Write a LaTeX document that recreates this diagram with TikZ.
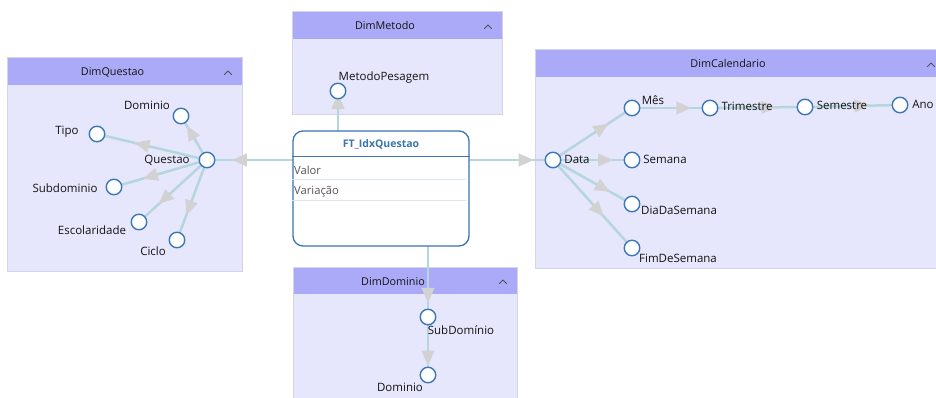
\documentclass[tikz,border=0pt]{standalone}
\usepackage{fontspec}
\setmainfont{Open Sans}
\usetikzlibrary{arrows.meta,decorations.markings,calc}

\definecolor{panelbody}{RGB}{230,230,252}
\definecolor{panelhead}{RGB}{170,170,248}
\definecolor{panelrule}{RGB}{212,212,226}
\definecolor{linkcol}{RGB}{182,214,222}
\definecolor{headcol}{RGB}{210,210,210}
\definecolor{ringcol}{RGB}{58,118,184}
\definecolor{factblue}{RGB}{58,116,178}
\definecolor{rowrule}{RGB}{222,230,240}
\definecolor{inkcol}{RGB}{20,20,20}
\definecolor{rowink}{RGB}{85,85,85}
\definecolor{caretcol}{RGB}{80,80,90}

% dimension panel: x1, y1, x2, y2, title, name
\newcommand{\dimpanel}[6]{%
  \fill[panelbody] (#1,#2) rectangle (#3,#4);
  \fill[panelhead] (#1,#2) rectangle (#3,{#2+27});
  \draw[panelrule, line width=1pt] (#1,#2) rectangle (#3,#4);
  \node[ptitle] (#6) at ({(#1+#3)/2-12},{#2+15}) {#5};
  \draw[caretcol, line width=0.9pt, line cap=round, line join=round]
    ({#3-17.5},{#2+16.5}) -- ({#3-14},{#2+13}) -- ({#3-10.5},{#2+16.5});
}

\begin{document}
\begin{tikzpicture}[x=1pt,y=-1pt,
  attr/.style={circle, draw=ringcol, fill=white, line width=1.4pt,
    minimum size=15.5pt, inner sep=0pt},
  lbl/.style={font=\fontsize{11.5}{13}\selectfont, text=inkcol, inner sep=0pt,
    text height=8.5pt, text depth=2.5pt},
  ptitle/.style={font=\fontsize{10.8}{12}\selectfont, text=inkcol, inner sep=0pt,
    text height=8pt, text depth=2pt},
  rowtext/.style={font=\fontsize{11.2}{13}\selectfont, text=rowink, inner sep=0pt,
    anchor=west, text height=8.5pt, text depth=2.5pt},
  link/.style={draw=linkcol, line width=2.5pt, postaction={decorate},
    decoration={markings, mark=at position #1 with
      {\arrow{Triangle[length=15pt,width=12.5pt,color=headcol]}}}},
]
\useasboundingbox (0,0) rectangle (936,398);
\clip (0,0) rectangle (936,398);
\fill[white] (0,0) rectangle (936,398);

% panels
\dimpanel{7}{58}{242}{271}{DimQuestao}{p-questao}
\dimpanel{292}{12}{502}{115}{DimMetodo}{p-metodo}
\dimpanel{535}{50}{945}{268}{DimCalendario}{p-calendario}
\dimpanel{293}{267}{517}{405}{DimDominio}{p-dominio}

% fact table frame (drawn first as coordinate holder)
\path (381,188.5) node[minimum width=176pt, minimum height=115pt, inner sep=0pt] (ft) {};

% attribute positions
\path
  (207,160) coordinate (q-c)
  (181,116) coordinate (dom-c)
  (97,134)  coordinate (tipo-c)
  (114,187) coordinate (subd-c)
  (139,222) coordinate (esc-c)
  (177,240) coordinate (ciclo-c)
  (338,91)  coordinate (met-c)
  (553,160) coordinate (data-c)
  (632,108) coordinate (mes-c)
  (710,108) coordinate (tri-c)
  (805,107) coordinate (sem-c)
  (900,105) coordinate (ano-c)
  (632,160) coordinate (semana-c)
  (632,204) coordinate (dia-c)
  (632,248) coordinate (fim-c)
  (428,317) coordinate (sdom-c)
  (428,375) coordinate (ddom-c);

% connectors
\path[link=0.71] (ft.west |- q-c) -- (q-c);
\path[link=0.77] (ft.east |- data-c) -- (data-c);
\path[link=0.93] (met-c |- ft.north) -- (met-c);
\path[link=0.80] (sdom-c |- ft.south) -- (sdom-c);

\path[link=0.66] (q-c) -- (tipo-c);
\path[link=0.78] (q-c) -- (dom-c);
\path[link=0.69] (q-c) -- (subd-c);
\path[link=0.71] (q-c) -- (esc-c);
\path[link=0.69] (q-c) -- (ciclo-c);

\path[link=0.70] (data-c) -- (mes-c);
\path[link=0.76] (data-c) -- (semana-c);
\path[link=0.72] (data-c) -- (dia-c);
\path[link=0.64] (data-c) -- (fim-c);
\path[link=0.76] (mes-c) -- (tri-c);
\path[link=0.70] (tri-c) -- (sem-c);
\path[link=0.68] (sem-c) -- (ano-c);

\path[link=0.84] (sdom-c) -- (ddom-c);

% fact table
\node[draw=factblue, line width=1.3pt, fill=white, rounded corners=10pt,
  minimum width=176pt, minimum height=115pt, inner sep=0pt] (ft-box) at (ft) {};
\node[font=\bfseries\fontsize{10.5}{12}\selectfont, text=factblue, inner sep=0pt,
  text height=8pt, text depth=2pt] (ft-title) at (381,145) {FT\_IdxQuestao};
\draw[factblue, line width=1pt] ($(ft-box.north west)+(0,26)$) -- ($(ft-box.north east)+(0,26)$);
\node[rowtext] (ft-valor) at (294,172) {Valor};
\draw[rowrule, line width=1.2pt] ($(ft-box.north west)+(0,49)$) -- ($(ft-box.north east)+(-4,49)$);
\node[rowtext] (ft-variacao) at (294,191) {Variação};
\draw[rowrule, line width=1.2pt] ($(ft-box.north west)+(0,70)$) -- ($(ft-box.north east)+(-4,70)$);

% attribute circles
\foreach \n in {q,dom,tipo,subd,esc,ciclo,met,data,mes,tri,sem,ano,semana,dia,fim,sdom,ddom}
  \node[attr] (\n) at (\n-c) {};

% attribute labels
\node[lbl] (l-dom)    at (147,107) {Dominio};
\node[lbl] (l-tipo)   at (67,132)  {Tipo};
\node[lbl] (l-q)      at (167,161) {Questao};
\node[lbl] (l-subd)   at (65,190)  {Subdominio};
\node[lbl] (l-esc)    at (92,231)  {Escolaridade};
\node[lbl] (l-ciclo)  at (153,252) {Ciclo};
\node[lbl] (l-met)    at (384,78)  {MetodoPesagem};
\node[lbl] (l-data)   at (577,161) {Data};
\node[lbl] (l-mes)    at (653,102) {Mês};
\node[lbl] (l-tri)    at (747,108) {Trimestre};
\node[lbl] (l-sem)    at (842,107) {Semestre};
\node[lbl] (l-ano)    at (923,106) {Ano};
\node[lbl] (l-semana) at (665,161) {Semana};
\node[lbl] (l-dia)    at (679,211) {DiaDaSemana};
\node[lbl] (l-fim)    at (678,259) {FimDeSemana};
\node[lbl] (l-sdom)   at (461,331) {SubDomínio};
\node[lbl] (l-ddom)   at (400,388) {Dominio};
\end{tikzpicture}
\end{document}
